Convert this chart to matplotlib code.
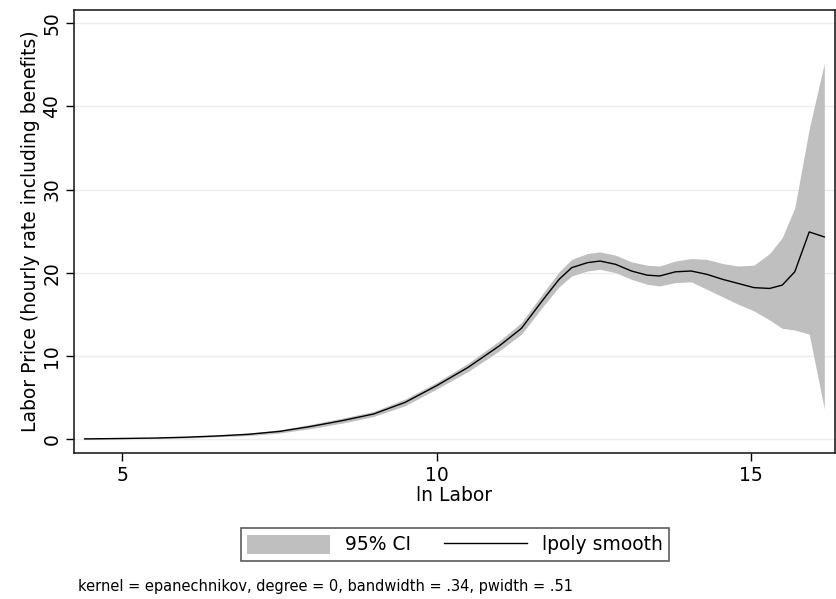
import matplotlib
matplotlib.use("Agg")
import matplotlib.pyplot as plt
from matplotlib.patches import Patch
from matplotlib.lines import Line2D

plt.rcParams["font.family"] = ["DejaVu Sans"]

# Local polynomial smooth of labour price on log labour, with 95% band
ln_labor = [4.4, 5.0, 5.5, 6.0, 6.5, 7.0, 7.5, 8.0, 8.5, 9.0, 9.5, 10.0,
            10.5, 11.0, 11.35, 11.7, 11.95, 12.15, 12.4, 12.6, 12.85, 13.1,
            13.35, 13.55, 13.8, 14.05, 14.3, 14.55, 14.8, 15.05, 15.3, 15.5,
            15.7, 15.93, 16.17]
smooth = [0.0, 0.05, 0.1, 0.2, 0.35, 0.55, 0.9, 1.5, 2.2, 3.0, 4.4, 6.4,
          8.6, 11.2, 13.3, 16.8, 19.2, 20.6, 21.2, 21.4, 21.0, 20.2,
          19.7, 19.6, 20.1, 20.2, 19.8, 19.2, 18.7, 18.2, 18.1, 18.5,
          20.1, 24.9, 24.3]
ci_low = [-0.05, 0.0, 0.05, 0.1, 0.25, 0.4, 0.7, 1.25, 1.9, 2.7, 4.0, 6.0,
          8.1, 10.6, 12.6, 16.0, 18.3, 19.6, 20.2, 20.4, 20.0, 19.2,
          18.6, 18.4, 18.8, 18.9, 18.0, 17.1, 16.2, 15.4, 14.3, 13.3,
          13.1, 12.6, 3.6]
ci_high = [0.05, 0.1, 0.15, 0.3, 0.45, 0.7, 1.1, 1.75, 2.5, 3.3, 4.8, 6.8,
           9.1, 11.8, 14.0, 17.6, 20.1, 21.6, 22.3, 22.5, 22.1, 21.3,
           20.9, 20.8, 21.4, 21.7, 21.6, 21.1, 20.8, 20.9, 22.3, 24.2,
           27.8, 37.3, 45.2]

x_ticks = [5, 10, 15]
y_ticks = [0, 10, 20, 30, 40, 50]
note = "kernel = epanechnikov, degree = 0, bandwidth = .34, pwidth = .51"

BAND = "#bfbfbf"
FS = 13.5

fig = plt.figure(figsize=(8.37, 5.99), dpi=100)
ax = fig.add_axes([0.0884, 0.2437, 0.9092, 0.7396])

ax.fill_between(ln_labor, ci_low, ci_high, color=BAND, lw=0, zorder=2)
ax.plot(ln_labor, smooth, color="black", lw=1.0, zorder=3)

ax.set_xlim(4.23, 16.34)
ax.set_ylim(-1.7, 51.6)
ax.set_xticks(x_ticks)
ax.set_yticks(y_ticks)
ax.set_yticklabels([str(v) for v in y_ticks], rotation=90, va="center")
ax.grid(axis="y", color="#ececec", lw=1.0, zorder=0)
ax.set_axisbelow(True)
ax.tick_params(direction="out", length=6, width=1, labelsize=FS, pad=3,
               colors="black")
for sp in ax.spines.values():
    sp.set_linewidth(1.2)
    sp.set_color("#222222")

ax.set_xlabel("ln Labor", fontsize=FS, labelpad=1)
ax.set_ylabel("Labor Price (hourly rate including benefits)", fontsize=FS,
              labelpad=2)

handles = [Patch(facecolor=BAND, edgecolor="none"),
           Line2D([], [], color="black", lw=1.0)]
leg = fig.legend(handles, ["95% CI", "lpoly smooth"], ncol=2,
                 loc="center", bbox_to_anchor=(455 / 837, 1 - 544.5 / 599),
                 fontsize=FS, frameon=True, fancybox=False, edgecolor="#333333",
                 handlelength=4.4, handleheight=1.2, handletextpad=0.8,
                 columnspacing=1.8, borderpad=0.35, borderaxespad=0)
leg.get_frame().set_linewidth(1.2)

fig.text(78 / 837, 1 - 586 / 599, note, fontsize=10.5, ha="left",
         va="center")

fig.savefig("out.png", dpi=100)
